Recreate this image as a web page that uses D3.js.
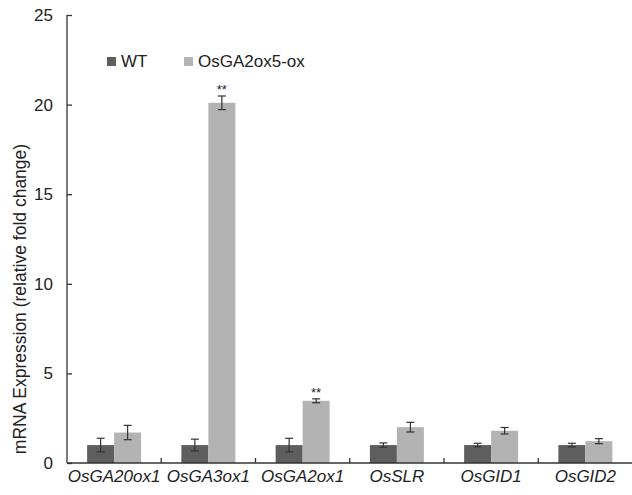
<!DOCTYPE html>
<html>
<head>
<meta charset="utf-8">
<script src="https://cdn.jsdelivr.net/npm/d3@7"></script>
<style>
  body { margin: 0; background: #fff; }
  svg text { font-family: "Liberation Sans", Arial, sans-serif; fill: #222; }
</style>
</head>
<body>
<div id="chart"></div>
<script>
// data
var genes = ["OsGA20ox1", "OsGA3ox1", "OsGA2ox1", "OsSLR", "OsGID1", "OsGID2"];
var series = ["WT", "OsGA2ox5-ox"];
var wtMean = [1.0, 1.0, 1.0, 1.0, 1.0, 1.0];
var wtErr  = [0.38, 0.33, 0.38, 0.12, 0.1, 0.1];
var oxMean = [1.7, 20.1, 3.47, 2.0, 1.8, 1.22];
var oxErr  = [0.4, 0.38, 0.11, 0.27, 0.18, 0.14];
var oxSig  = ["", "**", "**", "", "", ""];
var yTicks = [0, 5, 10, 15, 20, 25];

var colors = { "WT": "#5e5e5e", "OsGA2ox5-ox": "#b3b3b3" };

var width = 632, height = 495;
var mL = 67, mR = 632.5, mT = 15, mB = 463;

var svg = d3.select("#chart").append("svg")
    .attr("width", width)
    .attr("height", height);

var x = d3.scaleBand().domain(genes).range([mL, mR]).padding(0);
var bw = x.bandwidth();
var x1 = d3.scaleBand().domain(series).range([bw / 2 - 27, bw / 2 + 27]);
var y = d3.scaleLinear().domain([0, 25]).range([mB, mT]);

var rows = [];
genes.forEach(function(g, i) {
    rows.push({ gene: g, s: "WT", mean: wtMean[i], err: wtErr[i], sig: "" });
    rows.push({ gene: g, s: "OsGA2ox5-ox", mean: oxMean[i], err: oxErr[i], sig: oxSig[i] });
});

// bars
svg.append("g").selectAll("rect")
    .data(rows)
    .enter().append("rect")
    .attr("x", function(d) { return x(d.gene) + x1(d.s); })
    .attr("width", x1.bandwidth())
    .attr("y", function(d) { return y(d.mean); })
    .attr("height", function(d) { return y(0) - y(d.mean); })
    .attr("fill", function(d) { return colors[d.s]; });

// error bars
var eb = svg.append("g").attr("stroke", "#333").attr("stroke-width", 1.2);
rows.forEach(function(d) {
    var cx = x(d.gene) + x1(d.s) + x1.bandwidth() / 2;
    var y0 = y(d.mean - d.err), y1 = y(d.mean + d.err);
    eb.append("line").attr("x1", cx).attr("x2", cx).attr("y1", y0).attr("y2", y1);
    eb.append("line").attr("x1", cx - 4).attr("x2", cx + 4).attr("y1", y0).attr("y2", y0);
    eb.append("line").attr("x1", cx - 4).attr("x2", cx + 4).attr("y1", y1).attr("y2", y1);
});

// significance stars
svg.append("g").selectAll("text")
    .data(rows.filter(function(d) { return d.sig; }))
    .enter().append("text")
    .attr("x", function(d) { return x(d.gene) + x1(d.s) + x1.bandwidth() / 2; })
    .attr("y", function(d) { return y(d.mean + d.err) - 2; })
    .attr("text-anchor", "middle")
    .style("font-size", "13px")
    .text(function(d) { return d.sig; });

// y axis
var yAxis = svg.append("g")
    .attr("transform", "translate(" + mL + ",0)")
    .call(d3.axisLeft(y).tickValues(yTicks).tickSizeInner(-5).tickSizeOuter(0).tickPadding(14));
yAxis.selectAll("path, line").attr("stroke", "#333").attr("stroke-width", 1.3);
yAxis.selectAll("text").style("font-size", "17px").attr("fill", "#222");
yAxis.select(".domain").attr("d", "M0," + y(25) + "V" + y(0));

// x axis
var xAxis = svg.append("g");
xAxis.append("line")
    .attr("x1", mL).attr("x2", mR)
    .attr("y1", y(0)).attr("y2", y(0))
    .attr("stroke", "#333").attr("stroke-width", 1.3);
xAxis.selectAll(".tk")
    .data(genes.slice(1))
    .enter().append("line")
    .attr("class", "tk")
    .attr("x1", function(d) { return x(d); })
    .attr("x2", function(d) { return x(d); })
    .attr("y1", y(0)).attr("y2", y(0) - 5)
    .attr("stroke", "#333").attr("stroke-width", 1.3);
xAxis.selectAll("text")
    .data(genes)
    .enter().append("text")
    .attr("x", function(d) { return x(d) + bw / 2; })
    .attr("y", 482)
    .attr("text-anchor", "middle")
    .style("font-size", "17px")
    .style("font-style", "italic")
    .text(function(d) { return d; });

// y title
svg.append("text")
    .attr("transform", "translate(26,299) rotate(-90)")
    .attr("text-anchor", "middle")
    .style("font-size", "17.5px")
    .text("mRNA Expression (relative fold change)");

// legend
var legX = [107, 184];
var leg = svg.append("g").selectAll("g")
    .data(series)
    .enter().append("g")
    .attr("transform", function(d, i) { return "translate(" + legX[i] + ",57)"; });
leg.append("rect").attr("width", 9).attr("height", 9)
    .attr("fill", function(d) { return colors[d]; });
leg.append("text").attr("x", 14).attr("y", 9.5)
    .style("font-size", "17px")
    .text(function(d) { return d; });
</script>
</body>
</html>
